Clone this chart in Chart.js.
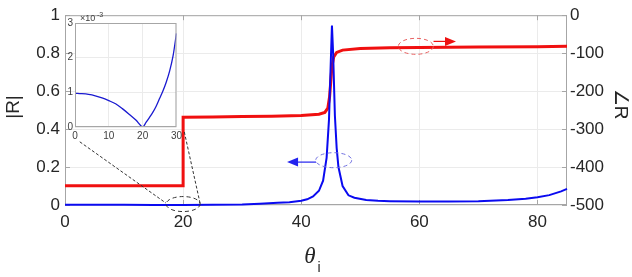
<!DOCTYPE html>
<html><head><meta charset="utf-8">
<script src="https://cdn.jsdelivr.net/npm/chart.js@4/dist/chart.umd.min.js"></script>
<style>
html,body{margin:0;padding:0;background:#fff;}
#wrap{position:relative;width:632px;height:277px;overflow:hidden;}
#main{position:absolute;left:0;top:0;}
#inset{position:absolute;left:55px;top:10px;}
</style></head><body>
<div id="wrap"><canvas id="main" width="632" height="277"></canvas><canvas id="inset" width="130" height="135"></canvas></div>
<script>
// ---------- data ----------
const magTheta  = [0,5,10,15,20,25,30,33,36,38,40,41,42,43,43.7,44.3,44.7,45.0,45.2,45.4,45.7,46.0,46.3,47,48,49,51,53,55,60,65,70,75,78,80,82,84,85];
const magValues = [0.00097,0.0009,0.00076,0.00045,0,0.0008,0.0027,0.007,0.012,0.015,0.022,0.03,0.045,0.075,0.128,0.25,0.45,0.75,0.945,0.8,0.47,0.3,0.2,0.1,0.051,0.038,0.026,0.022,0.02,0.018,0.018,0.02,0.026,0.033,0.041,0.052,0.072,0.085];

const phaseTheta  = [0,20,20,25,30,35,40,43,44,44.5,44.8,45,45.2,45.5,46,47,50,55,60,70,80,85];
const phaseValues = [-449,-449,-269,-268,-267,-266,-264,-261,-256,-245,-215,-175,-135,-110,-98,-92,-88,-86,-85,-84,-83,-82];

const insetTheta  = [0,2,4,6,8,10,12,14,16,18,20,21,22,23,24,25,26,27,28,29,30];
const insetValues = [0.97,0.96,0.94,0.9,0.84,0.76,0.67,0.53,0.37,0.2,0,0.13,0.27,0.42,0.6,0.82,1.04,1.3,1.62,2.05,2.7]; // ×10^-3

const xTicks      = [0,20,40,60,80];
const leftTicks   = [0,0.2,0.4,0.6,0.8,1];
const rightTicks  = [-500,-400,-300,-200,-100,0];
const insetXTicks = [0,10,20,30];
const insetYTicks = [0,1,2,3];

const FONT = "'Liberation Sans', Arial, sans-serif";
const TXT = '#262626';
const GRID = '#ebebeb';
const BOX = '#a6a6a6';

function pts(xs, ys){ return xs.map((v,i)=>({x:v, y:ys[i]})); }
function fixTicks(arr){ return s => { s.ticks = arr.map(v=>({value:v})); }; }

// ---------- main chart ----------
const mainDecor = {
  id:'mainDecor',
  beforeDatasetsDraw(chart){
    const {ctx, chartArea:a, scales:{x, yL, yR}} = chart;
    ctx.save();
    ctx.strokeStyle = BOX; ctx.lineWidth = 1;
    ctx.strokeRect(a.left+0.5, a.top+0.5, a.right-a.left-1, a.bottom-a.top-1);
    ctx.beginPath();
    xTicks.forEach(v=>{ const p=Math.round(x.getPixelForValue(v))+0.5;
      ctx.moveTo(p,a.bottom); ctx.lineTo(p,a.bottom-5); ctx.moveTo(p,a.top); ctx.lineTo(p,a.top+5); });
    leftTicks.forEach(v=>{ const p=Math.round(yL.getPixelForValue(v))+0.5;
      ctx.moveTo(a.left,p); ctx.lineTo(a.left+5,p); });
    rightTicks.forEach(v=>{ const p=Math.round(yR.getPixelForValue(v))+0.5;
      ctx.moveTo(a.right,p); ctx.lineTo(a.right-5,p); });
    ctx.stroke();
    ctx.restore();
  },
  afterDatasetsDraw(chart){
    const {ctx, scales:{x, yL}} = chart;
    const P = (xv,yv)=>[x.getPixelForValue(xv), yL.getPixelForValue(yv)];
    ctx.save();
    ctx.lineWidth = 1;
    ctx.setLineDash([4,3]);
    // red ellipse
    let c = P(59.4,0.836);
    ctx.strokeStyle='#e86060'; ctx.beginPath(); ctx.ellipse(c[0],c[1],17.5,8,0,0,Math.PI*2); ctx.stroke();
    // blue ellipse
    c = P(45.5,0.236);
    ctx.strokeStyle='#7070e0'; ctx.beginPath(); ctx.ellipse(c[0],c[1],18,7.5,0,0,Math.PI*2); ctx.stroke();
    // black ellipse
    c = P(20,0.005);
    ctx.strokeStyle='#333'; ctx.beginPath(); ctx.ellipse(c[0],c[1],17,7.5,0,0,Math.PI*2); ctx.stroke();
    // dashed connector lines
    ctx.strokeStyle='#333'; ctx.setLineDash([3,2]);
    let a1=P(2.5,0.333), b1=P(17.1,0.01);
    ctx.beginPath(); ctx.moveTo(a1[0],a1[1]); ctx.lineTo(b1[0],b1[1]); ctx.stroke();
    a1=P(20.2,0.385); b1=P(22.9,0.005);
    ctx.beginPath(); ctx.moveTo(a1[0],a1[1]); ctx.lineTo(b1[0],b1[1]); ctx.stroke();
    ctx.setLineDash([]);
    // arrows
    function arrow(from,to,col){
      ctx.strokeStyle=col; ctx.fillStyle=col; ctx.lineWidth=1.2;
      const dir = Math.sign(to[0]-from[0]);
      ctx.beginPath(); ctx.moveTo(from[0],from[1]); ctx.lineTo(to[0]-dir*9,to[1]); ctx.stroke();
      ctx.beginPath(); ctx.moveTo(to[0],to[1]); ctx.lineTo(to[0]-dir*11,to[1]-4.5); ctx.lineTo(to[0]-dir*11,to[1]+4.5); ctx.closePath(); ctx.fill();
    }
    arrow(P(62.4,0.862),P(66.2,0.862),'#ee1111');
    arrow(P(42.5,0.226),P(37.6,0.226),'#2222ee');
    // axis titles
    ctx.fillStyle=TXT; ctx.textAlign='center'; ctx.textBaseline='middle';
    ctx.font = "19px "+FONT;
    ctx.save(); ctx.translate(14,107); ctx.rotate(-Math.PI/2); ctx.fillText('|R|',0,0); ctx.restore();
    ctx.save(); ctx.translate(620,104); ctx.rotate(Math.PI/2); ctx.fillText('∠R',0,0); ctx.restore();
    ctx.textBaseline='alphabetic';
    ctx.font = "italic 23px 'Liberation Serif', serif";
    ctx.fillText('θ',310,263);
    ctx.font = "14px "+FONT;
    ctx.fillText('i',319,272);
    ctx.restore();
  }
};

new Chart(document.getElementById('main'), {
  type:'scatter',
  data:{datasets:[
    {label:'|R|', data:pts(magTheta,magValues), yAxisID:'yL', showLine:true, borderColor:'#0a0af0', borderWidth:2, pointRadius:0, tension:0, clip:false, order:1},
    {label:'∠R', data:pts(phaseTheta,phaseValues), yAxisID:'yR', showLine:true, borderColor:'#f01010', borderWidth:3, pointRadius:0, tension:0, clip:false, order:2}
  ]},
  options:{
    responsive:false, animation:false, devicePixelRatio:1,
    layout:{padding:{top:10,left:0,right:0,bottom:0}},
    plugins:{legend:{display:false}, tooltip:{enabled:false}},
    scales:{
      x:{type:'linear', min:0, max:85, afterBuildTicks:fixTicks(xTicks),
         afterFit:s=>{s.height=72;},
         grid:{color:GRID, drawTicks:false}, border:{display:false},
         ticks:{font:{family:FONT,size:17}, color:TXT, padding:7, maxRotation:0, callback:v=>String(v)}},
      yL:{type:'linear', position:'left', min:0, max:1, afterBuildTicks:fixTicks(leftTicks),
         afterFit:s=>{s.width=65;},
         grid:{color:GRID, drawTicks:false}, border:{display:false},
         ticks:{font:{family:FONT,size:17}, color:TXT, padding:5, callback:v=>String(v)}},
      yR:{type:'linear', position:'right', min:-500, max:0, afterBuildTicks:fixTicks(rightTicks),
         afterFit:s=>{s.width=65;},
         grid:{display:false, drawTicks:false}, border:{display:false},
         ticks:{font:{family:FONT,size:17}, color:TXT, padding:3, callback:v=>String(v)}}
    }
  },
  plugins:[mainDecor]
});

// ---------- inset chart ----------
const insetDecor = {
  id:'insetDecor',
  beforeDraw(chart){
    const {ctx, chartArea:a} = chart;
    ctx.save(); ctx.fillStyle='#fff'; ctx.fillRect(a.left,a.top,a.right-a.left,a.bottom-a.top); ctx.restore();
  },
  afterDraw(chart){
    const {ctx, chartArea:a} = chart;
    ctx.save();
    ctx.strokeStyle=BOX; ctx.lineWidth=1;
    ctx.strokeRect(a.left+0.5,a.top+0.5,a.right-a.left-1,a.bottom-a.top-1);
    ctx.fillStyle='#404040'; ctx.textAlign='left'; ctx.textBaseline='alphabetic';
    ctx.font = "9px "+FONT; ctx.fillText('×10',25,11);
    ctx.font = "7px "+FONT; ctx.fillText('-3',42,7);
    ctx.restore();
  }
};

new Chart(document.getElementById('inset'), {
  type:'scatter',
  data:{datasets:[
    {data:pts(insetTheta,insetValues), showLine:true, borderColor:'#1a1ad0', borderWidth:1.3, pointRadius:0, tension:0.3}
  ]},
  options:{
    responsive:false, animation:false, devicePixelRatio:1,
    layout:{padding:{top:13,right:6,left:0,bottom:0}},
    plugins:{legend:{display:false}, tooltip:{enabled:false}},
    scales:{
      x:{type:'linear', min:0, max:30, afterBuildTicks:fixTicks(insetXTicks),
         afterFit:s=>{s.height=18;},
         grid:{color:GRID, drawTicks:false}, border:{display:false},
         ticks:{font:{family:FONT,size:10}, color:'#404040', padding:3, maxRotation:0, callback:v=>String(v)}},
      y:{type:'linear', min:0, max:3, afterBuildTicks:fixTicks(insetYTicks),
         afterFit:s=>{s.width=20;},
         grid:{color:GRID, drawTicks:false}, border:{display:false},
         ticks:{font:{family:FONT,size:10}, color:'#404040', padding:2, callback:v=>String(v)}}
    }
  },
  plugins:[insetDecor]
});
</script>
</body></html>
